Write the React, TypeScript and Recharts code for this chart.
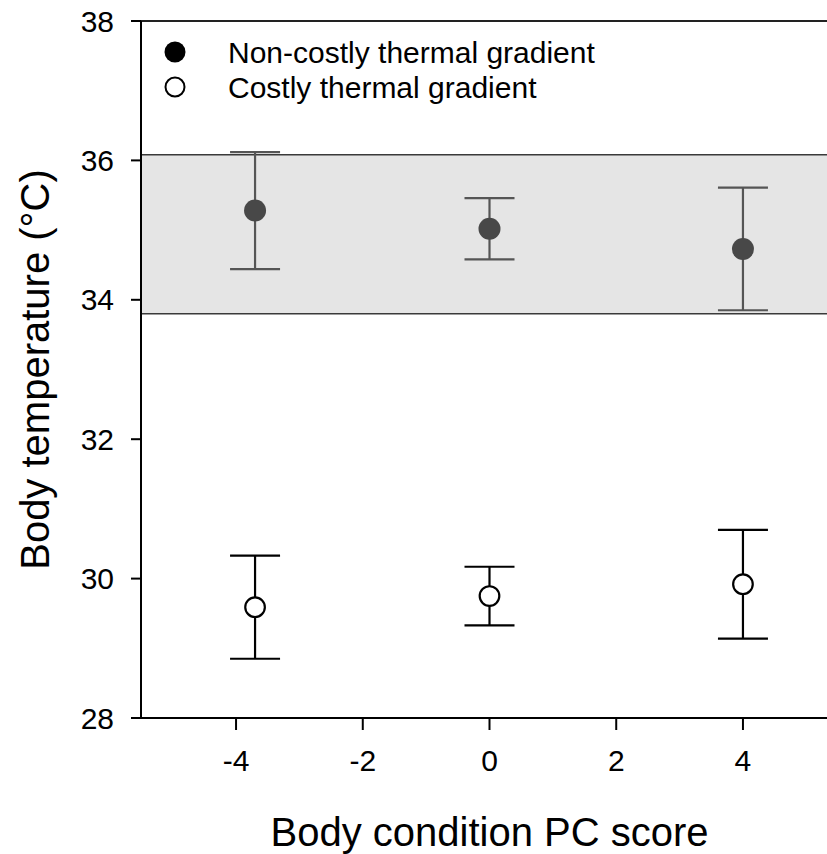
import React from 'react';
import {
  ScatterChart,
  Scatter,
  XAxis,
  YAxis,
  ErrorBar,
  ReferenceArea,
  ReferenceLine,
  Legend,
} from 'recharts';

const conditionScores = [-3.7, 0, 4];
const nonCostlyTemp = [35.28, 35.02, 34.73];
const nonCostlyErr = [0.84, 0.44, 0.88];
const costlyTemp = [29.59, 29.75, 29.92];
const costlyErr = [0.74, 0.42, 0.78];
const xTicks = [-4, -2, 0, 2, 4];
const yTicks = [28, 30, 32, 34, 36, 38];
const preferredLow = 33.8;
const preferredHigh = 36.08;
const seriesNames = ['Non-costly thermal gradient', 'Costly thermal gradient'];
const xTitle = 'Body condition PC score';
const yTitle = 'Body temperature (°C)';

const nonCostlyData = conditionScores.map((x, i) => ({ x, y: nonCostlyTemp[i], err: nonCostlyErr[i] }));
const costlyData = conditionScores.map((x, i) => ({ x, y: costlyTemp[i], err: costlyErr[i] }));

const FONT = '"Liberation Sans", Arial, sans-serif';
const DARK = '#484848';

const FilledDot = (p: any) => <circle cx={p.cx} cy={p.cy} r={11} fill={DARK} stroke="none" />;
const OpenDot = (p: any) => <circle cx={p.cx} cy={p.cy} r={9.8} fill="#fff" stroke="#000" strokeWidth={2.2} />;

const renderLegend = () => (
  <svg width={500} height={80} style={{ display: 'block' }}>
    <circle cx={20} cy={22} r={10.5} fill="#000" />
    <circle cx={20} cy={57} r={9.5} fill="#fff" stroke="#000" strokeWidth={2} />
    <text x={73} y={22} dominantBaseline="central" fontFamily={FONT} fontSize={30} fill="#000">
      {seriesNames[0]}
    </text>
    <text x={73} y={57} dominantBaseline="central" fontFamily={FONT} fontSize={30} fill="#000">
      {seriesNames[1]}
    </text>
  </svg>
);

const YTitle = (props: any) => {
  const vb = props.viewBox || { x: 0, y: 21, width: 141, height: 697 };
  const cx = 35;
  const cy = vb.y + vb.height / 2;
  return (
    <text
      x={cx}
      y={cy}
      transform={`rotate(-90 ${cx} ${cy})`}
      textAnchor="middle"
      dominantBaseline="central"
      fontFamily={FONT}
      fontSize={40}
      fill="#000"
    >
      {yTitle}
    </text>
  );
};

const XTitle = (props: any) => {
  const vb = props.viewBox || { x: 141, y: 718, width: 697, height: 136 };
  const cx = vb.x + vb.width / 2;
  return (
    <text x={cx} y={832} textAnchor="middle" dominantBaseline="central" fontFamily={FONT} fontSize={40} fill="#000">
      {xTitle}
    </text>
  );
};

export default function App() {
  return (
    <div style={{ position: 'absolute', left: 0, top: 0, width: 827, height: 854, overflow: 'hidden', background: '#fff' }}>
      <ScatterChart width={850} height={854} margin={{ top: 21, right: 12, bottom: 0, left: 0 }}>
        <ReferenceArea
          y1={preferredLow}
          y2={preferredHigh}
          fill="#e5e5e5"
          fillOpacity={1}
          stroke="#3a3a3a"
          strokeWidth={1.5}
          ifOverflow="extendDomain"
        />
        <ReferenceLine y={38} stroke="#222" strokeWidth={2} />
        <XAxis
          type="number"
          dataKey="x"
          domain={[-5.5, 5.5]}
          ticks={xTicks}
          allowDataOverflow
          height={136}
          tickSize={12}
          tickMargin={20}
          axisLine={{ stroke: '#000', strokeWidth: 2 }}
          tickLine={{ stroke: '#000', strokeWidth: 2 }}
          tick={{ fontSize: 30, fill: '#000', fontFamily: FONT }}
          label={<XTitle />}
        />
        <YAxis
          type="number"
          dataKey="y"
          domain={[28, 38]}
          ticks={yTicks}
          allowDataOverflow
          width={141}
          tickSize={10}
          tickMargin={17}
          axisLine={{ stroke: '#000', strokeWidth: 2 }}
          tickLine={{ stroke: '#000', strokeWidth: 2 }}
          tick={{ fontSize: 30, fill: '#000', fontFamily: FONT }}
          label={<YTitle />}
        />
        <Legend
          layout="vertical"
          align="center"
          verticalAlign="middle"
          content={renderLegend}
          wrapperStyle={{ position: 'absolute', left: 155, top: 30, width: 500, height: 80 }}
        />
        <Scatter name={seriesNames[0]} data={nonCostlyData} shape={FilledDot} isAnimationActive={false}>
          <ErrorBar dataKey="err" direction="y" width={25} stroke="#555" strokeWidth={2.2} />
        </Scatter>
        <Scatter name={seriesNames[1]} data={costlyData} shape={OpenDot} isAnimationActive={false}>
          <ErrorBar dataKey="err" direction="y" width={25} stroke="#000" strokeWidth={2.2} />
        </Scatter>
      </ScatterChart>
    </div>
  );
}
